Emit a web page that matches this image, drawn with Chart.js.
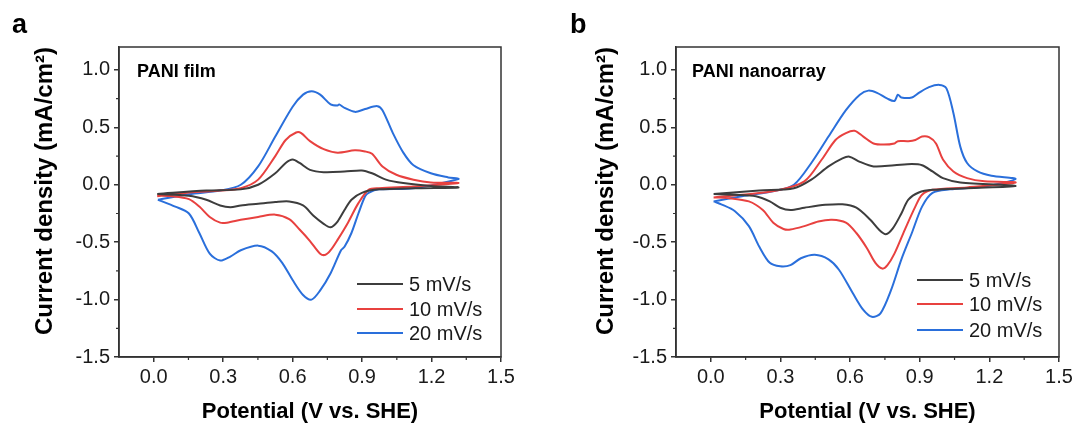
<!DOCTYPE html>
<html>
<head>
<meta charset="utf-8">
<script src="https://cdn.jsdelivr.net/npm/chart.js@4"></script>
<style>
  html, body { margin: 0; padding: 0; background: #fff; }
  #wrap { position: relative; width: 1077px; height: 425px; }
  canvas { position: absolute; top: 0; }
  #cvA { left: 0; }
  #cvB { left: 538px; }
</style>
</head>
<body>
<div id="wrap">
  <canvas id="cvA" width="538" height="425"></canvas>
  <canvas id="cvB" width="539" height="425"></canvas>
</div>
<script>
// axis ticks
const potentialTicks = [0, 0.3, 0.6, 0.9, 1.2, 1.5];
const potentialMinor = [0.15, 0.45, 0.75, 1.05, 1.35];
const currentTicks = [-1.5, -1.0, -0.5, 0, 0.5, 1.0];
const currentMinor = [-1.25, -0.75, -0.25, 0.25, 0.75];
const scanRates = ['5 mV/s', '10 mV/s', '20 mV/s'];
const rateColors = ['#3d3d3d', '#e8413f', '#2a6fdb'];

// a: PANI film, potential (V) and current density (mA/cm2), anodic then cathodic sweep
const film5E = [0.015, 0.227, 0.376, 0.451, 0.525, 0.57, 0.60, 0.63, 0.675, 0.734, 0.824, 0.899, 0.943, 1.003, 1.078, 1.197, 1.316,
  1.122, 0.973, 0.899, 0.854, 0.824, 0.794, 0.764, 0.734, 0.69, 0.645, 0.585, 0.525, 0.451, 0.376, 0.331, 0.287, 0.227, 0.152, 0.015];
const film5J = [-0.08, -0.05, -0.04, 0.0, 0.10, 0.19, 0.22, 0.19, 0.13, 0.11, 0.115, 0.125, 0.10, 0.045, 0.015, -0.01, -0.023,
  -0.03, -0.04, -0.07, -0.13, -0.22, -0.32, -0.37, -0.34, -0.27, -0.18, -0.145, -0.15, -0.165, -0.18, -0.195, -0.18, -0.13, -0.095, -0.08];

const film10E = [0.015, 0.152, 0.287, 0.376, 0.451, 0.525, 0.57, 0.615, 0.637, 0.675, 0.734, 0.794, 0.869, 0.913, 0.943, 0.988, 1.048, 1.122, 1.197, 1.316,
  1.122, 0.973, 0.928, 0.884, 0.839, 0.794, 0.764, 0.742, 0.719, 0.675, 0.63, 0.585, 0.525, 0.451, 0.376, 0.316, 0.287, 0.242, 0.197, 0.152, 0.078, 0.015];
const film10J = [-0.10, -0.067, -0.05, -0.03, 0.045, 0.25, 0.39, 0.455, 0.45, 0.38, 0.31, 0.28, 0.30, 0.29, 0.27, 0.16, 0.087, 0.044, 0.02, 0.015,
  -0.015, -0.03, -0.044, -0.16, -0.33, -0.48, -0.57, -0.61, -0.60, -0.49, -0.39, -0.30, -0.26, -0.28, -0.305, -0.33, -0.33, -0.28, -0.19, -0.125, -0.10, -0.095];

const film20E = [0.018, 0.152, 0.287, 0.376, 0.451, 0.525, 0.60, 0.645, 0.682, 0.719, 0.764, 0.794, 0.801, 0.824, 0.869, 0.913, 0.966, 0.988, 1.033, 1.078, 1.122, 1.197, 1.272, 1.316,
  1.122, 0.973, 0.928, 0.913, 0.884, 0.854, 0.824, 0.809, 0.764, 0.719, 0.682, 0.645, 0.60, 0.555, 0.51, 0.451, 0.376, 0.331, 0.287, 0.242, 0.197, 0.152, 0.093, 0.018];
const film20J = [-0.13, -0.082, -0.05, 0.0, 0.16, 0.42, 0.68, 0.785, 0.815, 0.785, 0.70, 0.69, 0.70, 0.67, 0.635, 0.66, 0.685, 0.65, 0.45, 0.28, 0.17, 0.10, 0.064, 0.05,
  -0.03, -0.04, -0.07, -0.10, -0.25, -0.42, -0.54, -0.57, -0.77, -0.92, -1.0, -0.96, -0.83, -0.68, -0.58, -0.53, -0.57, -0.625, -0.66, -0.60, -0.42, -0.25, -0.19, -0.13];

// b: PANI nanoarray
const nano5E = [0.012, 0.209, 0.358, 0.433, 0.507, 0.567, 0.597, 0.642, 0.701, 0.791, 0.866, 0.91, 0.955, 1.0, 1.075, 1.313,
  1.104, 0.955, 0.896, 0.851, 0.821, 0.784, 0.754, 0.724, 0.687, 0.627, 0.567, 0.493, 0.403, 0.343, 0.299, 0.254, 0.194, 0.104, 0.012];
const nano5J = [-0.08, -0.05, -0.03, 0.045, 0.16, 0.23, 0.245, 0.20, 0.16, 0.17, 0.18, 0.17, 0.116, 0.058, 0.02, -0.01,
  -0.03, -0.044, -0.067, -0.13, -0.25, -0.38, -0.43, -0.39, -0.305, -0.20, -0.17, -0.175, -0.20, -0.22, -0.20, -0.145, -0.10, -0.087, -0.08];

const nano10E = [0.012, 0.134, 0.284, 0.403, 0.478, 0.537, 0.582, 0.619, 0.657, 0.701, 0.746, 0.791, 0.806, 0.851, 0.881, 0.91, 0.94, 0.97, 1.0, 1.045, 1.104, 1.179, 1.313,
  1.104, 0.955, 0.91, 0.881, 0.836, 0.791, 0.761, 0.739, 0.709, 0.672, 0.627, 0.582, 0.522, 0.463, 0.403, 0.343, 0.313, 0.269, 0.224, 0.164, 0.075, 0.012];
const nano10J = [-0.11, -0.087, -0.05, 0.03, 0.22, 0.39, 0.45, 0.47, 0.42, 0.36, 0.35, 0.36, 0.38, 0.38, 0.39, 0.42, 0.415, 0.36, 0.22, 0.116, 0.058, 0.03, 0.02,
  -0.023, -0.044, -0.087, -0.19, -0.39, -0.60, -0.70, -0.73, -0.68, -0.55, -0.42, -0.33, -0.305, -0.32, -0.36, -0.39, -0.385, -0.33, -0.22, -0.145, -0.116, -0.11];

const nano20E = [0.012, 0.134, 0.284, 0.358, 0.433, 0.507, 0.582, 0.642, 0.679, 0.716, 0.761, 0.791, 0.806, 0.821, 0.866, 0.896, 0.94, 0.985, 1.015, 1.045, 1.075, 1.104, 1.149, 1.209, 1.313,
  1.179, 1.03, 0.955, 0.91, 0.866, 0.821, 0.776, 0.731, 0.694, 0.657, 0.612, 0.552, 0.507, 0.448, 0.388, 0.343, 0.299, 0.254, 0.209, 0.164, 0.104, 0.045, 0.012];
const nano20J = [-0.145, -0.10, -0.05, 0.0, 0.19, 0.42, 0.65, 0.785, 0.82, 0.80, 0.75, 0.73, 0.785, 0.76, 0.76, 0.80, 0.85, 0.87, 0.84, 0.625, 0.33, 0.19, 0.116, 0.078, 0.05,
  -0.015, -0.04, -0.07, -0.19, -0.42, -0.65, -0.92, -1.12, -1.15, -1.09, -0.945, -0.74, -0.65, -0.61, -0.64, -0.70, -0.71, -0.68, -0.54, -0.36, -0.23, -0.17, -0.145];

function toPoints(E, J) {
  return E.map((e, i) => ({ x: e, y: J[i] }));
}

const FONT = "'Liberation Sans', Arial, Helvetica, sans-serif";
const AXIS = '#333333';

// panel letter, sample name, outer frame, minor ticks, legend
const panelDeco = {
  id: 'panelDeco',
  afterDraw(chart, args, o) {
    const ctx = chart.ctx;
    const a = chart.chartArea;
    const xs = chart.scales.x, ys = chart.scales.y;
    ctx.save();
    ctx.strokeStyle = AXIS;
    ctx.lineWidth = 1.5;
    ctx.strokeRect(a.left, a.top, a.right - a.left, a.bottom - a.top);
    ctx.lineWidth = 1.2;
    ctx.beginPath();
    potentialMinor.forEach(v => {
      const px = xs.getPixelForValue(v);
      ctx.moveTo(px, a.bottom);
      ctx.lineTo(px, a.bottom + 3);
    });
    currentMinor.forEach(v => {
      const py = ys.getPixelForValue(v);
      ctx.moveTo(a.left, py);
      ctx.lineTo(a.left - 3, py);
    });
    ctx.stroke();

    ctx.fillStyle = '#000';
    ctx.textBaseline = 'alphabetic';
    ctx.textAlign = 'left';
    ctx.font = 'bold 27px ' + FONT;
    ctx.fillText(o.letter, o.letterX, 33);
    ctx.font = 'bold 18px ' + FONT;
    ctx.fillText(o.sample, o.sampleX, 77);

    ctx.font = '20px ' + FONT;
    ctx.textBaseline = 'middle';
    chart.data.datasets.forEach((ds, i) => {
      const y = o.legendY[i];
      ctx.strokeStyle = ds.borderColor;
      ctx.lineWidth = 2.2;
      ctx.beginPath();
      ctx.moveTo(o.legendX, y);
      ctx.lineTo(o.legendX + 46, y);
      ctx.stroke();
      ctx.fillStyle = '#1a1a1a';
      ctx.fillText(ds.label, o.legendX + 52, y + 1);
    });
    ctx.restore();
  }
};

function makePanel(id, sets, p) {
  const datasets = sets.map((s, i) => ({
    label: scanRates[i],
    data: toPoints(s[0], s[1]),
    borderColor: rateColors[i],
    borderWidth: 2,
    pointRadius: 0,
    showLine: true,
    tension: 0.3,
    fill: false
  }));
  return new Chart(document.getElementById(id), {
    type: 'scatter',
    data: { datasets: datasets },
    options: {
      responsive: false,
      animation: false,
      events: [],
      layout: { autoPadding: false, padding: { left: 0, top: 47, right: p.right, bottom: 0 } },
      plugins: {
        legend: { display: false },
        tooltip: { enabled: false },
        panelDeco: p.deco
      },
      scales: {
        x: {
          type: 'linear',
          min: -0.15,
          max: 1.5,
          afterBuildTicks: s => { s.ticks = potentialTicks.map(v => ({ value: v })); },
          afterFit: s => { s.height = 68; s.paddingLeft = 0; s.paddingRight = 0; },
          ticks: {
            color: '#1a1a1a',
            font: { family: FONT, size: 20 },
            padding: 3,
            maxRotation: 0,
            callback: v => v.toFixed(1)
          },
          grid: { drawOnChartArea: false, drawTicks: true, tickLength: 5, color: AXIS, lineWidth: 1.5 },
          border: { display: true, color: AXIS, width: 1.5 },
          title: {
            display: true,
            text: 'Potential (V vs. SHE)',
            color: '#000',
            font: { family: FONT, size: 22, weight: 'bold', lineHeight: 1.2 },
            padding: { top: 0, bottom: 0 }
          }
        },
        y: {
          type: 'linear',
          min: -1.5,
          max: 1.2,
          afterBuildTicks: s => { s.ticks = currentTicks.map(v => ({ value: v })); },
          afterFit: s => { s.width = p.yWidth; s.paddingTop = 0; s.paddingBottom = 0; },
          ticks: {
            color: '#1a1a1a',
            font: { family: FONT, size: 20 },
            padding: 4,
            callback: v => v.toFixed(1)
          },
          grid: { drawOnChartArea: false, drawTicks: true, tickLength: 5, color: AXIS, lineWidth: 1.5 },
          border: { display: true, color: AXIS, width: 1.5 },
          title: {
            display: true,
            text: 'Current density (mA/cm²)',
            align: 'end',
            color: '#000',
            font: { family: FONT, size: 24, weight: 'bold', lineHeight: 1.2 },
            padding: { top: p.yTitlePad, bottom: 0 }
          }
        }
      }
    },
    plugins: [panelDeco]
  });
}

makePanel('cvA', [[film5E, film5J], [film10E, film10J], [film20E, film20J]], {
  right: 37,
  yWidth: 119,
  yTitlePad: 31,
  deco: { letter: 'a', letterX: 12, sample: 'PANI film', sampleX: 137, legendX: 357, legendY: [284, 309, 333] }
});

makePanel('cvB', [[nano5E, nano5J], [nano10E, nano10J], [nano20E, nano20J]], {
  right: 18,
  yWidth: 138,
  yTitlePad: 54,
  deco: { letter: 'b', letterX: 32, sample: 'PANI nanoarray', sampleX: 154, legendX: 379, legendY: [280, 304, 330] }
});
</script>
</body>
</html>
